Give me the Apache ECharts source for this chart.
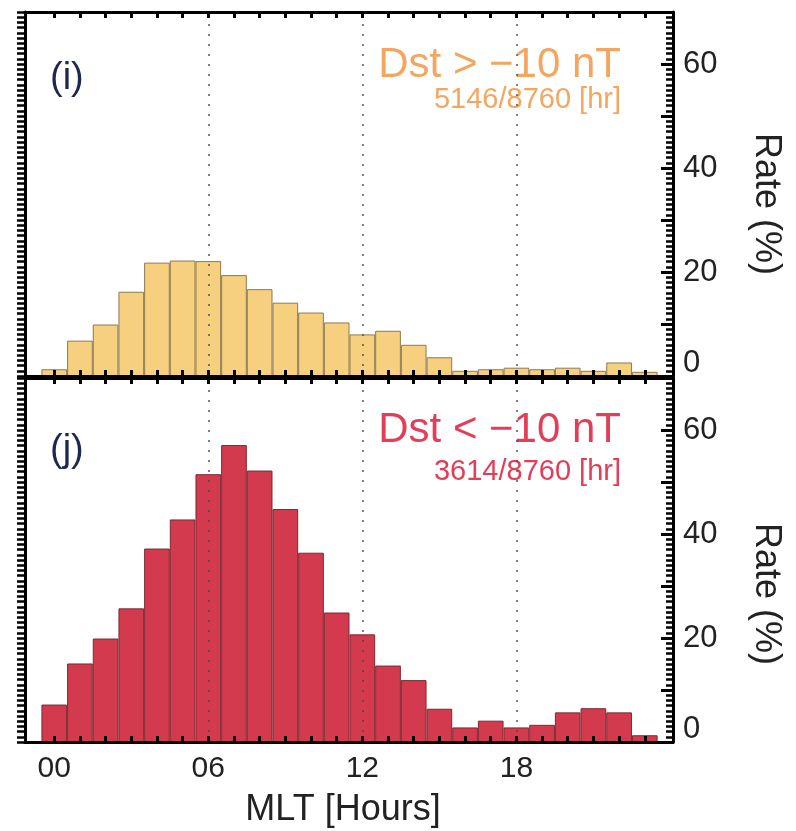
<!DOCTYPE html>
<html>
<head>
<meta charset="utf-8">
<script src="https://cdn.jsdelivr.net/npm/echarts@6/dist/echarts.min.js"></script>
<style>html,body{margin:0;padding:0;background:#fff}#c{width:796px;height:831px}</style>
</head>
<body>
<div id="c"></div>
<script>
// ---- data ----
const hours = [0,1,2,3,4,5,6,7,8,9,10,11,12,13,14,15,16,17,18,19,20,21,22,23];
const rateQuiet  = [1.3,6.8,9.9,16.2,21.8,22.2,22.1,19.4,16.7,14.1,12.2,10.3,8.0,8.7,6.0,3.6,1.0,1.3,1.6,1.3,1.6,1.0,2.6,0.8];
const rateActive = [7.2,15.1,19.9,25.7,37.2,42.8,51.5,57.1,52.2,44.8,36.4,24.9,20.7,14.7,11.9,6.4,2.8,4.1,2.8,3.3,5.7,6.5,5.7,1.3];
const xLabelValues = [0,6,12,18];
const yLabelValues = [0,20,40,60];
const refLines = [6,12,18];
const panelTags = ['(i)','(j)'];
const panelTitles = ['Dst > \u221210 nT','Dst < \u221210 nT'];
const panelSubs = ['5146/8760 [hr]','3614/8760 [hr]'];
const xName = 'MLT [Hours]';
const yName = 'Rate (%)';

// ---- layout ----
const FONT = "'Liberation Sans', Arial, sans-serif";
const gridLeft = 25, gridRight = 123, W = 796 - gridLeft - gridRight;
const panels = [{top: 12, height: 364}, {top: 378, height: 364}];
const xMin = -1.14, xMax = 24.1;
const barW = W / (xMax - xMin);
const fills = ['#F6D07F', '#D43A4E'];
const edges = ['#8c7a4e', '#7a2a30'];
const titleColors = ['#F4A661', '#E23E57'];
const yMin = 0, yMax = 70;

const gridList = [], xAxes = [], yAxes = [], series = [];
panels.forEach((g, i) => {
  const gi = gridList.length;
  gridList.push({left: gridLeft, right: gridRight, top: g.top, height: g.height});
  const bottomX = {
    type: 'value', gridIndex: gi, position: 'bottom', min: xMin, max: xMax, z: 5,
    axisLine: {show: true, onZero: false, lineStyle: {color: '#000', width: 3}},
    axisTick: {show: true, inside: true, length: 6, customValues: hours, lineStyle: {color: '#000', width: 3}},
    axisLabel: {show: i === 1, customValues: xLabelValues, margin: 12,
      formatter: v => String(v).padStart(2, '0'), fontSize: 30, color: '#222', fontFamily: FONT},
    splitLine: {show: false}
  };
  if (i === 1) {
    bottomX.name = xName; bottomX.nameLocation = 'middle'; bottomX.nameGap = 50;
    bottomX.nameTextStyle = {fontSize: 36, color: '#222', fontFamily: FONT, padding: [0, 12, 0, 0]};
  }
  const xi = xAxes.length;
  xAxes.push(bottomX);
  xAxes.push({
    type: 'value', gridIndex: gi, position: 'top', min: xMin, max: xMax, z: 5,
    axisLine: {show: true, onZero: false, lineStyle: {color: '#000', width: 3}},
    axisTick: {show: true, inside: true, length: 6, customValues: hours, lineStyle: {color: '#000', width: 3}},
    axisLabel: {show: false}, splitLine: {show: false}
  });
  const yi = yAxes.length;
  // right axis: major ticks + labels
  yAxes.push({
    type: 'value', gridIndex: gi, position: 'right', min: yMin, max: yMax, interval: 10, z: 5,
    axisLine: {show: true, onZero: false, lineStyle: {color: '#000', width: 3}},
    axisTick: {show: true, inside: true, length: 12, lineStyle: {color: '#000', width: 3}},
    axisLabel: {show: true, margin: 10, fontSize: 31, color: '#222', fontFamily: FONT,
      formatter: v => yLabelValues.indexOf(v) < 0 ? '' : (v === 0 ? '{z|0}' : String(v)),
      rich: {z: {fontSize: 31, color: '#222', fontFamily: FONT, padding: [0, 0, 26, 0]}}},
    splitLine: {show: false}
  });
  // left axis: fine ticks outward
  yAxes.push({
    type: 'value', gridIndex: gi, position: 'left', min: yMin, max: yMax, interval: 1, z: 5,
    axisLine: {show: true, onZero: false, lineStyle: {color: '#000', width: 3}},
    axisTick: {show: true, inside: false, length: 8, lineStyle: {color: '#000', width: 2.5}},
    axisLabel: {show: false}, splitLine: {show: false}
  });
  // overlay grid carrying the fine ticks of the right axis
  const go = gridList.length;
  gridList.push({left: gridLeft, right: gridRight, top: g.top, height: g.height});
  xAxes.push({type: 'value', gridIndex: go, min: xMin, max: xMax, show: false});
  yAxes.push({
    type: 'value', gridIndex: go, position: 'right', min: yMin, max: yMax, interval: 1, z: 5,
    axisLine: {show: false, onZero: false},
    axisTick: {show: true, inside: true, length: 7, lineStyle: {color: '#000', width: 2.5}},
    axisLabel: {show: false}, splitLine: {show: false}
  });

  const vals = i === 0 ? rateQuiet : rateActive;
  series.push({
    type: 'bar', xAxisIndex: xi, yAxisIndex: yi, barWidth: barW,
    data: hours.map((h, k) => [h, vals[k]]),
    itemStyle: {color: fills[i], borderColor: edges[i], borderWidth: 1},
    silent: true,
    markLine: {
      silent: true, symbol: 'none', label: {show: false},
      lineStyle: {color: '#444', type: [2, 8], width: 1.8, opacity: 0.75},
      data: refLines.map(v => ({xAxis: v}))
    }
  });
});

const graphic = [];
const tagY = [79, 451], titleY = [65, 430], subY = [100, 472], rateY = [204, 594];
for (let i = 0; i < 2; i++) {
  graphic.push({type: 'text', x: 50, y: tagY[i], style: {text: panelTags[i], font: '38px ' + FONT, fill: '#1c2850', align: 'left', verticalAlign: 'middle'}});
  graphic.push({type: 'text', x: 621, y: titleY[i], style: {text: panelTitles[i], font: '42px ' + FONT, fill: titleColors[i], align: 'right', verticalAlign: 'middle'}});
  graphic.push({type: 'text', x: 621, y: subY[i], style: {text: panelSubs[i], font: '29px ' + FONT, fill: titleColors[i], align: 'right', verticalAlign: 'middle'}});
  graphic.push({type: 'text', x: 766, y: rateY[i], rotation: -Math.PI / 2, style: {text: yName, font: '36px ' + FONT, fill: '#222', align: 'center', verticalAlign: 'middle'}});
}

const chart = echarts.init(document.getElementById('c'), null, {renderer: 'canvas'});
chart.setOption({
  animation: false,
  backgroundColor: '#fff',
  textStyle: {fontFamily: FONT},
  grid: gridList,
  xAxis: xAxes,
  yAxis: yAxes,
  series: series,
  graphic: graphic
});
</script>
</body>
</html>
